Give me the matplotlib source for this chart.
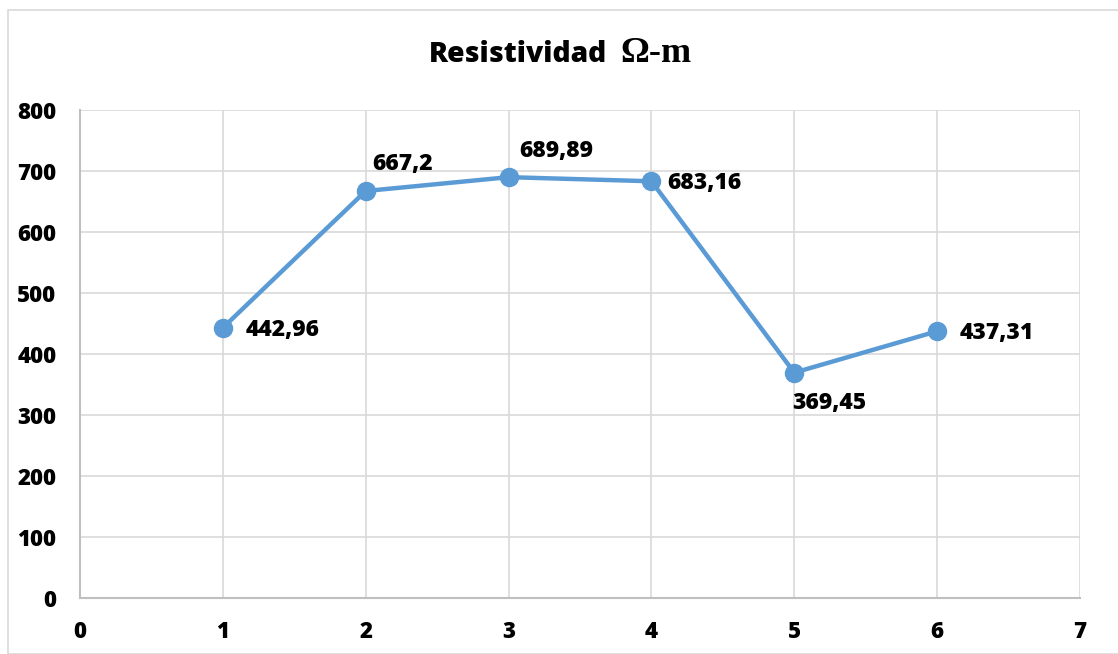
import matplotlib
matplotlib.use("Agg")
import matplotlib.pyplot as plt
from matplotlib.patches import Rectangle

x_values = [1, 2, 3, 4, 5, 6]
resistividad = [442.96, 667.2, 689.89, 683.16, 369.45, 437.31]
point_labels = ["442,96", "667,2", "689,89", "683,16", "369,45", "437,31"]
x_ticks = [0, 1, 2, 3, 4, 5, 6, 7]
y_ticks = [0, 100, 200, 300, 400, 500, 600, 700, 800]

# label offsets in pixels (dx, dy) relative to each point
label_offsets = [(23, -2), (7, 27), (11, 26), (16, -2), (-2, -30), (22, -2)]

W, H = 1118, 654
plt.rcParams['font.family'] = ['Open Sans', 'DejaVu Sans']
plt.rcParams['font.weight'] = 'heavy'

fig = plt.figure(figsize=(W / 100, H / 100), dpi=100)
fig.patches.append(Rectangle((8 / W, 0), 1.2, 1 - 10 / H, transform=fig.transFigure,
                             fill=False, edgecolor='#D9D9D9', linewidth=1.2))

ax = fig.add_axes([80 / W, 1 - 598 / H, 1000 / W, 488 / H])
ax.plot(x_values, resistividad, color='#5B9BD5', linewidth=3.2,
        marker='o', markersize=13, zorder=3)

for x, y, lab, (dx, dy) in zip(x_values, resistividad, point_labels, label_offsets):
    ax.annotate(lab, (x, y), xytext=(dx, dy), textcoords='offset pixels',
                ha='left', va='center', fontsize=16.5, fontweight='heavy', color='black')

ax.set_xlim(0, 7)
ax.set_ylim(0, 800)
ax.set_xticks(x_ticks)
ax.set_yticks(y_ticks)
ax.grid(True, color='#D9D9D9', linewidth=1.2)
ax.set_axisbelow(True)
for side in ['top', 'right']:
    ax.spines[side].set_visible(False)
for side in ['left', 'bottom']:
    ax.spines[side].set_color('#BFBFBF')
    ax.spines[side].set_linewidth(1.5)
ax.tick_params(length=0, labelsize=16)
ax.tick_params(axis='y', pad=17)
ax.tick_params(axis='x', pad=16)
for lab in ax.get_xticklabels() + ax.get_yticklabels():
    lab.set_fontweight('heavy')

fig.text(429 / W, 1 - 62 / H, "Resistividad", fontsize=20.3, fontweight='heavy',
         ha='left', va='baseline')
fig.text(620 / W, 1 - 62 / H, "Ω-m", fontsize=26, fontweight='bold',
         family='Liberation Serif', ha='left', va='baseline')

fig.savefig("out.png", dpi=100)
